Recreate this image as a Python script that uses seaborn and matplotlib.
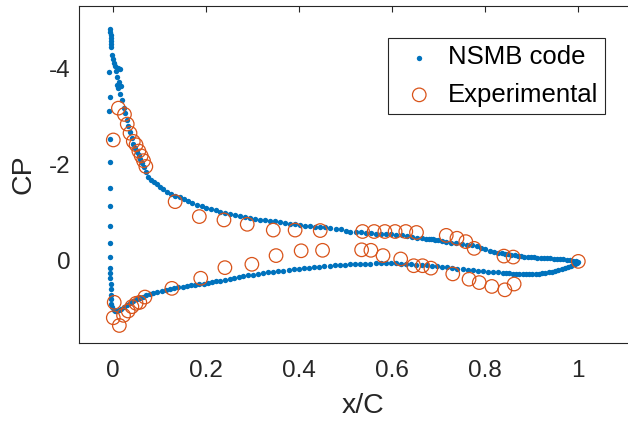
import numpy as np
import pandas as pd
import matplotlib
matplotlib.use("Agg")
import matplotlib.pyplot as plt
import seaborn as sns

# ---------------- data ----------------
upper_x = [-0.007, -0.007, -0.006, -0.006, -0.006, -0.006, -0.006,
           -0.002, -0.001, 0.002, 0.004, 0.011, 0.014, 0.005, 0.009, 0.012, 0.007,
           0.016, 0.011, 0.014, 0.018, 0.022, 0.025, 0.029, 0.032, 0.036, 0.040,
           0.043, 0.047, 0.051, 0.055, 0.058, 0.061, 0.065, 0.070, 0.075, 0.081,
           0.087, 0.093, 0.100, 0.107, 0.115, 0.124, 0.133, 0.143, 0.151, 0.160,
           0.170, 0.180, 0.190, 0.200, 0.210, 0.220, 0.230, 0.241, 0.251, 0.262,
           0.272, 0.283, 0.294, 0.305, 0.315, 0.326, 0.337, 0.348, 0.358, 0.369,
           0.380, 0.391, 0.402, 0.412, 0.423, 0.434, 0.445, 0.456, 0.467, 0.478,
           0.489, 0.500, 0.510, 0.521, 0.532, 0.543, 0.554, 0.565, 0.576, 0.587,
           0.598, 0.609, 0.620, 0.631, 0.642, 0.653, 0.664, 0.672, 0.678, 0.683,
           0.687, 0.691, 0.698, 0.706, 0.716, 0.727, 0.738, 0.749, 0.760, 0.771,
           0.782, 0.791, 0.800, 0.810, 0.819, 0.828, 0.835, 0.842, 0.849, 0.856,
           0.863, 0.870, 0.877, 0.884, 0.891, 0.898, 0.905, 0.912, 0.919, 0.926,
           0.933, 0.940, 0.947, 0.954, 0.961, 0.968, 0.975, 0.982, 0.988, 0.994,
           1.000]
upper_cp = [-4.81, -4.75, -4.69, -4.63, -4.56, -4.50, -4.44,
            -4.27, -4.19, -4.11, -4.05, -4.00, -3.98, -3.95, -3.82, -3.72, -3.65,
            -3.64, -3.58, -3.46, -3.34, -3.17, -3.06, -2.93, -2.80, -2.68, -2.55,
            -2.43, -2.35, -2.27, -2.19, -2.11, -2.03, -1.95, -1.85, -1.75, -1.68,
            -1.63, -1.59, -1.54, -1.49, -1.44, -1.39, -1.35, -1.32, -1.29, -1.24,
            -1.20, -1.16, -1.13, -1.10, -1.08, -1.05, -1.02, -1.00, -0.98, -0.96,
            -0.94, -0.92, -0.90, -0.87, -0.85, -0.84, -0.83, -0.82, -0.81, -0.79,
            -0.77, -0.76, -0.75, -0.73, -0.72, -0.71, -0.70, -0.70, -0.69, -0.67,
            -0.66, -0.63, -0.61, -0.60, -0.59, -0.58, -0.57, -0.56, -0.56, -0.55,
            -0.55, -0.54, -0.53, -0.51, -0.50, -0.48, -0.47, -0.46, -0.45, -0.45,
            -0.45, -0.44, -0.43, -0.41, -0.39, -0.38, -0.37, -0.35, -0.34, -0.32,
            -0.30, -0.27, -0.24, -0.21, -0.19, -0.17, -0.16, -0.15, -0.14, -0.13,
            -0.12, -0.11, -0.10, -0.09, -0.085, -0.08, -0.075, -0.07, -0.065, -0.06,
            -0.055, -0.05, -0.045, -0.04, -0.035, -0.03, -0.02, -0.01, 0.00, 0.01,
            0.02]

nose_x = [-0.009, -0.008, -0.009, -0.007, -0.007, -0.007, -0.007, -0.007,
          -0.007, -0.007, -0.007, -0.007, -0.007, -0.006, -0.006, -0.006,
          -0.005, -0.004, -0.002, 0.001]
nose_cp = [-3.91, -3.41, -3.12, -2.52, -2.06, -1.51, -1.14, -0.73,
           -0.37, -0.08, 0.14, 0.25, 0.36, 0.48, 0.59, 0.70,
           0.80, 0.89, 0.96, 1.02]

lower_x = [0.004, 0.008, 0.012, 0.017, 0.022, 0.029, 0.036, 0.043, 0.050,
           0.057, 0.064, 0.071, 0.079, 0.086, 0.095, 0.104, 0.113, 0.122,
           0.131, 0.140, 0.149, 0.158, 0.167, 0.176, 0.185, 0.194, 0.203,
           0.212, 0.221, 0.230, 0.240, 0.250, 0.260, 0.270, 0.280, 0.290,
           0.300, 0.311, 0.322, 0.333, 0.344, 0.355, 0.366, 0.377, 0.388,
           0.399, 0.410, 0.421, 0.432, 0.443, 0.454, 0.465, 0.476, 0.487,
           0.498, 0.509, 0.520, 0.531, 0.542, 0.553, 0.564, 0.575, 0.586,
           0.597, 0.608, 0.619, 0.630, 0.641, 0.652, 0.663, 0.674, 0.685,
           0.696, 0.707, 0.718, 0.729, 0.740, 0.751, 0.762, 0.773, 0.784,
           0.795, 0.806, 0.817, 0.828, 0.838, 0.845, 0.852, 0.859, 0.866,
           0.873, 0.880, 0.887, 0.894, 0.901, 0.908, 0.915, 0.922, 0.929,
           0.936, 0.943, 0.950, 0.957, 0.964, 0.971, 0.978, 0.985, 0.992,
           0.997]
lower_cp = [1.05, 1.04, 1.02, 0.99, 0.95, 0.91, 0.87, 0.83, 0.80,
            0.77, 0.74, 0.71, 0.69, 0.67, 0.65, 0.62, 0.60, 0.59,
            0.57, 0.55, 0.54, 0.53, 0.51, 0.50, 0.48, 0.47, 0.45,
            0.44, 0.42, 0.41, 0.39, 0.37, 0.35, 0.34, 0.32, 0.30,
            0.29, 0.27, 0.25, 0.24, 0.22, 0.21, 0.20, 0.18, 0.17,
            0.16, 0.15, 0.14, 0.13, 0.12, 0.11, 0.10, 0.09, 0.09,
            0.08, 0.07, 0.07, 0.06, 0.06, 0.06, 0.05, 0.05, 0.05,
            0.05, 0.05, 0.06, 0.06, 0.07, 0.08, 0.08, 0.09, 0.10,
            0.11, 0.12, 0.13, 0.14, 0.16, 0.17, 0.18, 0.19, 0.20,
            0.21, 0.22, 0.23, 0.24, 0.25, 0.255, 0.26, 0.265, 0.27,
            0.27, 0.275, 0.275, 0.275, 0.27, 0.27, 0.265, 0.26, 0.25,
            0.24, 0.23, 0.21, 0.19, 0.17, 0.15, 0.13, 0.10, 0.07,
            0.05]

exp_x = [0.000, 0.011, 0.024, 0.030, 0.036, 0.043, 0.049, 0.055, 0.060, 0.065,
         0.070, 0.133, 0.185, 0.238, 0.288, 0.344, 0.391, 0.445, 0.536, 0.561,
         0.584, 0.606, 0.629, 0.652, 0.716, 0.739, 0.758, 0.776, 0.840, 0.860,
         1.000,
         0.002, 0.000, 0.013, 0.022, 0.032, 0.040, 0.049, 0.057, 0.068, 0.126,
         0.188, 0.240, 0.298, 0.350, 0.404, 0.450, 0.534, 0.554, 0.580, 0.618,
         0.646, 0.665, 0.683, 0.730, 0.765, 0.787, 0.814, 0.842, 0.862]
exp_cp = [-2.51, -3.17, -3.04, -2.84, -2.65, -2.48, -2.41, -2.28, -2.18, -2.08,
          -1.96, -1.23, -0.92, -0.85, -0.76, -0.64, -0.64, -0.63, -0.61, -0.61,
          -0.61, -0.61, -0.61, -0.59, -0.53, -0.47, -0.40, -0.26, -0.10, -0.08,
          0.01,
          0.86, 1.18, 1.34, 1.13, 1.04, 0.95, 0.88, 0.86, 0.75, 0.57,
          0.36, 0.14, 0.07, -0.11, -0.21, -0.22, -0.23, -0.22, -0.11, -0.04,
          0.10, 0.10, 0.15, 0.27, 0.38, 0.45, 0.53, 0.60, 0.48]

x_ticks = [0, 0.2, 0.4, 0.6, 0.8, 1]
x_tick_labels = ["0", "0.2", "0.4", "0.6", "0.8", "1"]
y_ticks = [-4, -2, 0]
y_tick_labels = ["-4", "-2", "0"]

nsmb = pd.DataFrame({"x": upper_x + nose_x + lower_x,
                     "cp": upper_cp + nose_cp + lower_cp})
exp = pd.DataFrame({"x": exp_x, "cp": exp_cp})

# ---------------- style ----------------
sns.set_style("white")
plt.rcParams["font.family"] = ["Liberation Sans", "DejaVu Sans"]
plt.rcParams["axes.unicode_minus"] = False
dark = "#262626"
blue = "#0072BD"
orange = "#D95319"

fig = plt.figure(figsize=(6.28, 4.23), dpi=100)
ax = fig.add_axes([79.3 / 628, 1 - 343.3 / 423, (647 - 79.3) / 628, (343.3 - 6) / 423])

sns.scatterplot(data=nsmb, x="x", y="cp", ax=ax, color=blue, s=15,
                linewidth=0, marker="o", label="NSMB code", zorder=2)
sns.scatterplot(data=exp, x="x", y="cp", ax=ax, facecolors="none",
                edgecolor=orange, s=95, linewidth=0.9, marker="o",
                label="Experimental", zorder=3)

ax.set_xlim(-0.0731, 1.1477)
ax.set_ylim(1.71, -5.29)
ax.set_xticks(x_ticks)
ax.set_xticklabels(x_tick_labels)
ax.set_yticks(y_ticks)
ax.set_yticklabels(y_tick_labels)

ax.tick_params(axis="both", direction="in", length=4.2, width=0.8, color=dark,
               labelsize=17.5, labelcolor=dark, top=True, right=False)
ax.tick_params(axis="x", pad=12)
ax.tick_params(axis="y", pad=6)
for side in ["left", "bottom", "top"]:
    ax.spines[side].set_color(dark)
    ax.spines[side].set_linewidth(0.8)
    ax.spines[side].set_visible(True)
ax.spines["right"].set_visible(False)

ax.set_xlabel("x/C", fontsize=20.5, color=dark, labelpad=8)
ax.set_ylabel("CP", fontsize=20.5, color=dark, labelpad=9)

leg = ax.legend(loc="upper left", bbox_to_anchor=(388.3 / 628, 1 - 38.3 / 423),
                bbox_transform=fig.transFigure, borderaxespad=0, frameon=True,
                fancybox=False, edgecolor=dark, framealpha=1, fontsize=18.5,
                handlelength=1.85, handletextpad=0.18, borderpad=0.28,
                labelspacing=0.51, scatterpoints=1)
leg.get_frame().set_linewidth(0.8)
for t in leg.get_texts():
    t.set_color("black")

fig.savefig("out.png", dpi=100)
